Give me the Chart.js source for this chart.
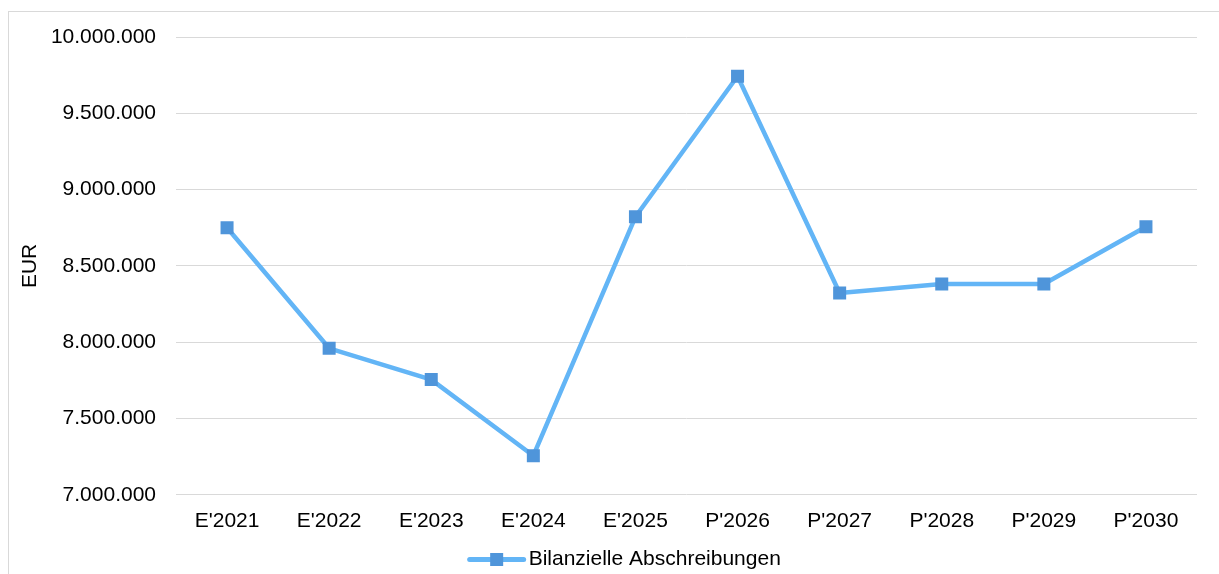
<!DOCTYPE html>
<html lang="de">
<head>
<meta charset="utf-8">
<title>Bilanzielle Abschreibungen</title>
<script src="https://cdn.jsdelivr.net/npm/chart.js@4/dist/chart.umd.min.js"></script>
<style>
    html, body { margin: 0; padding: 0; overflow: hidden; background: #fff; }
    #rahmen { position: absolute; left: 8px; top: 11px; width: 1300px; height: 700px; border: 1px solid #d9d9d9; }
    #box { position: absolute; left: 0; top: 0; width: 1219px; height: 580px; }
</style>
</head>
<body>
<div id="rahmen"></div>
<div id="box"><canvas id="grafico"></canvas></div>
<script>
// Daten
const kategorien = ["E'2021", "E'2022", "E'2023", "E'2024", "E'2025", "P'2026", "P'2027", "P'2028", "P'2029", "P'2030"];
const abschreibungen = [8750000, 7960000, 7755000, 7256000, 8822000, 9743000, 8322000, 8381000, 8381000, 8757000];
const serienName = "Bilanzielle Abschreibungen";
const achsenTitel = "EUR";
const yMin = 7000000;
const yMax = 10000000;
const ySchritt = 500000;

const linienFarbe = '#63b5f6';
const punktFarbe = '#4f95da';
const schrift = 'Arial, "Liberation Sans", sans-serif';

// Tausenderpunkte wie im Original
const formatEUR = (v) => String(Math.round(v)).replace(/\B(?=(\d{3})+(?!\d))/g, '.');

const LEGENDE_BOX = 50;

// Legendensymbol (Linie mit Quadrat) selbst zeichnen
const legendeSymbol = {
    id: 'legendeSymbol',
    afterLayout(chart) {
        const lg = chart.legend;
        lg.left += 26;
        lg.right += 26;
    },
    afterDraw(chart) {
        const hb = chart.legend.legendHitBoxes[0];
        if (!hb) return;
        const ctx = chart.ctx;
        const textX = hb.left + LEGENDE_BOX + 10.5;
        const y = hb.top + hb.height / 2;
        const x1 = textX - 59, x2 = textX - 5;
        ctx.save();
        ctx.strokeStyle = linienFarbe;
        ctx.lineWidth = 5;
        ctx.lineCap = 'round';
        ctx.beginPath();
        ctx.moveTo(x1, y);
        ctx.lineTo(x2, y);
        ctx.stroke();
        ctx.fillStyle = punktFarbe;
        const m = (x1 + x2) / 2;
        ctx.fillRect(m - 6.5, y - 6.5, 13, 13);
        ctx.restore();
    }
};

const ctx = document.getElementById('grafico').getContext('2d');
const chart = new Chart(ctx, {
    type: 'line',
    data: {
        labels: kategorien,
        datasets: [{
            label: serienName,
            data: abschreibungen,
            borderColor: linienFarbe,
            borderWidth: 4.5,
            borderCapStyle: 'round',
            borderJoinStyle: 'round',
            tension: 0,
            fill: false,
            pointStyle: 'rect',
            pointRadius: 9.2,
            pointHoverRadius: 9.2,
            pointBackgroundColor: punktFarbe,
            pointBorderWidth: 0
        }]
    },
    options: {
        responsive: true,
        maintainAspectRatio: false,
        animation: false,
        events: [],
        layout: {
            padding: { left: 0, right: 22, top: 37, bottom: 0 }
        },
        scales: {
            x: {
                offset: true,
                grid: { display: false, drawTicks: false },
                border: { display: false },
                ticks: {
                    color: '#000',
                    padding: 14,
                    maxRotation: 0,
                    font: { family: schrift, size: 21 }
                }
            },
            y: {
                min: yMin,
                max: yMax,
                afterFit: (scale) => { scale.width = 176; },
                grid: { color: '#d9d9d9', lineWidth: 1, drawTicks: false },
                border: { display: false },
                ticks: {
                    stepSize: ySchritt,
                    color: '#000',
                    padding: 20,
                    font: { family: schrift, size: 21 },
                    callback: (v) => formatEUR(v)
                },
                title: {
                    display: true,
                    text: achsenTitel,
                    color: '#000',
                    padding: { top: 18, bottom: 0 },
                    font: { family: schrift, size: 21 }
                }
            }
        },
        plugins: {
            tooltip: { enabled: false },
            legend: {
                display: true,
                position: 'bottom',
                labels: {
                    boxWidth: LEGENDE_BOX,
                    boxHeight: 5,
                    padding: 1,
                    color: '#000',
                    font: { family: schrift, size: 21 },
                    generateLabels: (c) => c.data.datasets.map((d, i) => ({
                        text: d.label,
                        fillStyle: 'rgba(0,0,0,0)',
                        strokeStyle: 'rgba(0,0,0,0)',
                        lineWidth: 0,
                        hidden: false,
                        datasetIndex: i
                    }))
                }
            }
        }
    },
    plugins: [legendeSymbol]
});
</script>
</body>
</html>
